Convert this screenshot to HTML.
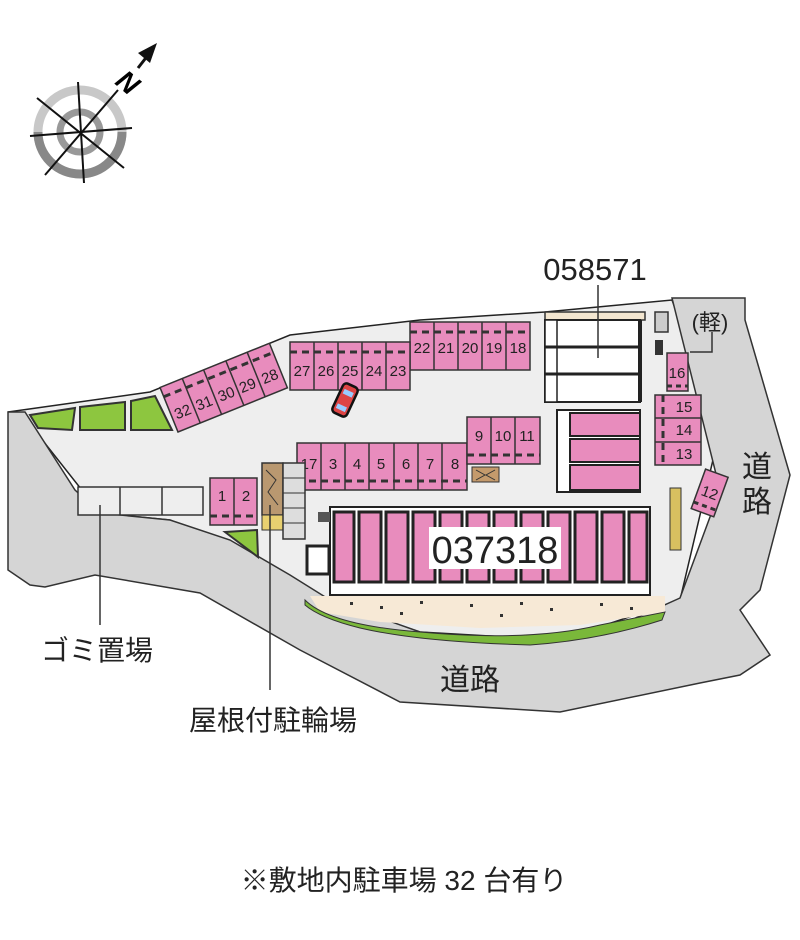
<!DOCTYPE html>
<html><head><meta charset="utf-8"><style>
body{margin:0;background:#fff;}
svg{display:block;font-family:"Liberation Sans","Noto Sans CJK JP",sans-serif;}
</style></head><body>
<svg width="800" height="940" viewBox="0 0 800 940" xmlns="http://www.w3.org/2000/svg">
<!-- compass -->
<g>
<circle cx="80" cy="132" r="42" fill="none" stroke="#c8c8c8" stroke-width="9"/>
<path d="M80 132 m-42 0 a42 42 0 0 0 42 42 a42 42 0 0 0 42-42" fill="none" stroke="#888" stroke-width="9"/>
<circle cx="80" cy="132" r="20" fill="none" stroke="#999" stroke-width="7"/>
<g stroke="#111" stroke-width="2">
<line x1="37" y1="98" x2="124" y2="168"/>
<line x1="45" y1="175" x2="118" y2="90"/>
<line x1="30" y1="136" x2="132" y2="128"/>
<line x1="78" y1="82" x2="84" y2="183"/>
</g>
<line x1="138" y1="68" x2="152" y2="50" stroke="#111" stroke-width="3"/>
<polygon points="157,43 138,53 150,63" fill="#111"/>
<text x="118" y="92" font-size="28" font-weight="bold" font-style="italic" transform="rotate(40 128 82)">N</text>
</g>
<!-- site ground -->
<polygon points="8,412 150,392 290,335 420,320 545,312 672,300 720,430 680,600 560,640 420,632 330,602 250,555 170,520 100,513 25,418" fill="#eeeeee" stroke="#222" stroke-width="1.5"/>
<!-- roads -->
<path d="M8,412 L25,412 L75,490 L100,513 L170,520 L230,540 L290,575 L330,600 L420,632 L530,642 L620,625 L680,598 L720,490 L700,410 L672,298 L745,298 L745,320 L790,475 L760,590 L740,610 L770,655 L740,675 L700,683 L560,712 L400,702 L300,650 L200,593 L95,575 L45,587 L30,585 L8,570 Z" fill="#d5d5d5" stroke="#333" stroke-width="1.5"/>
<rect x="78" y="487" width="125" height="28" fill="#eee" stroke="#333" stroke-width="1.5"/>
<line x1="120" y1="487" x2="120" y2="515" stroke="#333" stroke-width="1.5"/>
<line x1="162" y1="487" x2="162" y2="515" stroke="#333" stroke-width="1.5"/>
<!-- green -->
<polygon points="30,415 75,408 72,430 38,428" fill="#8dc63f" stroke="#333" stroke-width="2"/>
<polygon points="80,407 125,402 125,430 80,430" fill="#8dc63f" stroke="#333" stroke-width="2"/>
<polygon points="131,401 155,396 172,430 131,430" fill="#8dc63f" stroke="#333" stroke-width="2"/>
<polygon points="225,532 257,530 258,557" fill="#8dc63f" stroke="#333" stroke-width="2"/>
<!-- sand & green strip -->
<polygon points="310,596 665,596 665,612 580,625 480,628 380,622 320,612" fill="#f7e9d6"/>
<path d="M305,600 Q330,625 420,632 Q530,642 600,625 L665,612 L662,620 Q600,640 530,645 Q420,642 360,628 Q320,618 305,605 Z" fill="#7ab83a" stroke="#333" stroke-width="1"/>
<g fill="#333">
<rect x="350" y="602" width="3" height="3"/><rect x="380" y="606" width="3" height="3"/><rect x="420" y="601" width="3" height="3"/><rect x="470" y="604" width="3" height="3"/><rect x="520" y="602" width="3" height="3"/><rect x="550" y="608" width="3" height="3"/><rect x="600" y="603" width="3" height="3"/><rect x="630" y="607" width="3" height="3"/><rect x="400" y="612" width="3" height="3"/><rect x="500" y="614" width="3" height="3"/>
</g>
<g fill="#e88cbd" stroke="#333" stroke-width="1.5">
<rect x="410" y="322" width="120" height="48"/>
<g><line x1="434" y1="322" x2="434" y2="370"/><line x1="458" y1="322" x2="458" y2="370"/><line x1="482" y1="322" x2="482" y2="370"/><line x1="506" y1="322" x2="506" y2="370"/></g>
<line x1="410" y1="332" x2="530" y2="332" stroke-dasharray="7,5" stroke-width="3"/>
<rect x="290" y="342" width="120" height="48"/>
<g><line x1="314" y1="342" x2="314" y2="390"/><line x1="338" y1="342" x2="338" y2="390"/><line x1="362" y1="342" x2="362" y2="390"/><line x1="386" y1="342" x2="386" y2="390"/></g>
<line x1="290" y1="352" x2="410" y2="352" stroke-dasharray="7,5" stroke-width="3"/>
<g transform="rotate(-22 178 432)">
<rect x="178" y="384" width="118" height="48"/>
<line x1="202" y1="384" x2="202" y2="432"/><line x1="225" y1="384" x2="225" y2="432"/><line x1="249" y1="384" x2="249" y2="432"/><line x1="272" y1="384" x2="272" y2="432"/>
<line x1="178" y1="394" x2="296" y2="394" stroke-dasharray="7,5" stroke-width="3"/>
</g>
<rect x="297" y="443" width="170" height="47"/>
<g><line x1="321" y1="443" x2="321" y2="490"/><line x1="345" y1="443" x2="345" y2="490"/><line x1="369" y1="443" x2="369" y2="490"/><line x1="394" y1="443" x2="394" y2="490"/><line x1="418" y1="443" x2="418" y2="490"/><line x1="442" y1="443" x2="442" y2="490"/></g>
<line x1="297" y1="481" x2="467" y2="481" stroke-dasharray="7,5" stroke-width="3"/>
<rect x="467" y="417" width="73" height="47"/>
<line x1="491" y1="417" x2="491" y2="464"/><line x1="515" y1="417" x2="515" y2="464"/>
<line x1="467" y1="455" x2="540" y2="455" stroke-dasharray="7,5" stroke-width="3"/>
<rect x="210" y="478" width="47" height="47"/>
<line x1="234" y1="478" x2="234" y2="525"/>
<line x1="210" y1="516" x2="257" y2="516" stroke-dasharray="7,5" stroke-width="3"/>
<rect x="655" y="395" width="46" height="70"/>
<line x1="655" y1="418" x2="701" y2="418"/><line x1="655" y1="442" x2="701" y2="442"/>
<line x1="663" y1="395" x2="663" y2="465" stroke-dasharray="7,5" stroke-width="3"/>
<rect x="667" y="353" width="21" height="38"/>
<line x1="667" y1="386" x2="688" y2="386" stroke-dasharray="5,4" stroke-width="3"/>
<g transform="rotate(20 710 492)"><rect x="698" y="472" width="24" height="42"/>
<line x1="698" y1="507" x2="722" y2="507" stroke-dasharray="5,4" stroke-width="3"/></g>
</g>
<g font-size="15" fill="#222" text-anchor="middle">
<text x="422" y="353">22</text><text x="446" y="353">21</text><text x="470" y="353">20</text><text x="494" y="353">19</text><text x="518" y="353">18</text>
<text x="302" y="376">27</text><text x="326" y="376">26</text><text x="350" y="376">25</text><text x="374" y="376">24</text><text x="398" y="376">23</text>
<g transform="rotate(-22 178 432)"><text x="190" y="420">32</text><text x="213" y="420">31</text><text x="237" y="420">30</text><text x="260" y="420">29</text><text x="284" y="420">28</text></g>
<text x="309" y="469">17</text><text x="333" y="469">3</text><text x="357" y="469">4</text><text x="381" y="469">5</text><text x="406" y="469">6</text><text x="430" y="469">7</text><text x="455" y="469">8</text>
<text x="479" y="441">9</text><text x="503" y="441">10</text><text x="527" y="441">11</text>
<text x="222" y="501">1</text><text x="246" y="501">2</text>
<text x="684" y="412">15</text><text x="684" y="435">14</text><text x="684" y="459">13</text>
<text x="677" y="378">16</text>
<text x="710" y="498" transform="rotate(20 710 492)">12</text>
</g>
<!-- car -->
<g transform="rotate(25 345 400)"><rect x="337" y="384" width="16" height="32" rx="4" fill="#d44" stroke="#111" stroke-width="2.5"/><rect x="340" y="390" width="10" height="5" fill="#9cf"/><rect x="340" y="406" width="10" height="5" fill="#9cf"/></g>
<!-- building 058571 -->
<rect x="545" y="312" width="100" height="8" fill="#f3e6d0" stroke="#333" stroke-width="1.5"/>
<rect x="545" y="320" width="95" height="82" fill="#fff" stroke="#222" stroke-width="2"/>
<rect x="545" y="320" width="12" height="82" fill="#fff" stroke="#222" stroke-width="1.5"/>
<line x1="545" y1="347" x2="640" y2="347" stroke="#222" stroke-width="3"/>
<line x1="545" y1="374" x2="640" y2="374" stroke="#222" stroke-width="3"/>
<line x1="640" y1="320" x2="640" y2="402" stroke="#222" stroke-width="4"/>
<rect x="655" y="312" width="13" height="20" fill="#ccc" stroke="#333" stroke-width="1.5"/>
<rect x="655" y="340" width="8" height="15" fill="#333"/>
<rect x="557" y="410" width="83" height="82" fill="#fff" stroke="#222" stroke-width="2"/>
<rect x="570" y="413" width="70" height="23" fill="#e88cbd" stroke="#222" stroke-width="2"/>
<rect x="570" y="439" width="70" height="23" fill="#e88cbd" stroke="#222" stroke-width="2"/>
<rect x="570" y="465" width="70" height="25" fill="#e88cbd" stroke="#222" stroke-width="2"/>
<rect x="472" y="467" width="27" height="15" fill="#c49a6c" stroke="#333"/>
<path d="M476 470 L485 475 L476 480 M495 470 L486 475 L495 480" stroke="#333" fill="none"/>
<!-- building 037318 -->
<rect x="330" y="507" width="320" height="88" fill="#fff" stroke="#222" stroke-width="2"/>
<g fill="#e88cbd" stroke="#222" stroke-width="3">
<rect x="334" y="512" width="20" height="70"/><rect x="359" y="512" width="22" height="70"/><rect x="386" y="512" width="22" height="70"/><rect x="413" y="512" width="22" height="70"/><rect x="440" y="512" width="22" height="70"/><rect x="467" y="512" width="22" height="70"/><rect x="494" y="512" width="22" height="70"/><rect x="521" y="512" width="22" height="70"/><rect x="548" y="512" width="22" height="70"/><rect x="575" y="512" width="22" height="70"/><rect x="602" y="512" width="22" height="70"/><rect x="629" y="512" width="18" height="70"/>
</g>
<rect x="318" y="512" width="12" height="10" fill="#555"/>
<rect x="429" y="527" width="132" height="42" fill="#fff"/>
<text x="495" y="563" font-size="38" text-anchor="middle" fill="#222">037318</text>
<rect x="262" y="463" width="21" height="52" fill="#b99870" stroke="#333" stroke-width="1.5"/>
<path d="M266 470 L276 480 L268 492 L278 505" stroke="#333" fill="none"/>
<rect x="262" y="515" width="21" height="15" fill="#e8d070" stroke="#333"/>
<rect x="283" y="463" width="22" height="76" fill="#ddd" stroke="#333" stroke-width="1.5"/>
<g stroke="#333"><line x1="283" y1="478" x2="305" y2="478"/><line x1="283" y1="493" x2="305" y2="493"/><line x1="283" y1="508" x2="305" y2="508"/><line x1="283" y1="523" x2="305" y2="523"/></g>
<rect x="307" y="546" width="22" height="28" fill="#fff" stroke="#222" stroke-width="3"/>
<rect x="670" y="488" width="11" height="62" fill="#d8c060" stroke="#333"/>
<line x1="100" y1="505" x2="100" y2="625" stroke="#333" stroke-width="1.5"/>
<line x1="270" y1="505" x2="270" y2="690" stroke="#333" stroke-width="1.5"/>
<line x1="598" y1="285" x2="598" y2="358" stroke="#333" stroke-width="1.5"/>
<path d="M712 332 L712 352 L690 352" stroke="#333" fill="none" stroke-width="1.5"/>
<g fill="#222">
<text x="595" y="280" font-size="31" text-anchor="middle">058571</text>
<text x="710" y="330" font-size="22" text-anchor="middle">(軽)</text>
<text x="757" y="477" font-size="30" text-anchor="middle">道</text>
<text x="757" y="512" font-size="30" text-anchor="middle">路</text>
<text x="470" y="690" font-size="30" text-anchor="middle">道路</text>
<text x="97" y="660" font-size="28" text-anchor="middle">ゴミ置場</text>
<text x="273" y="730" font-size="28" text-anchor="middle">屋根付駐輪場</text>
<text x="404" y="890" font-size="28" text-anchor="middle">※敷地内駐車場 32 台有り</text>
</g>
</svg>
</body></html>
